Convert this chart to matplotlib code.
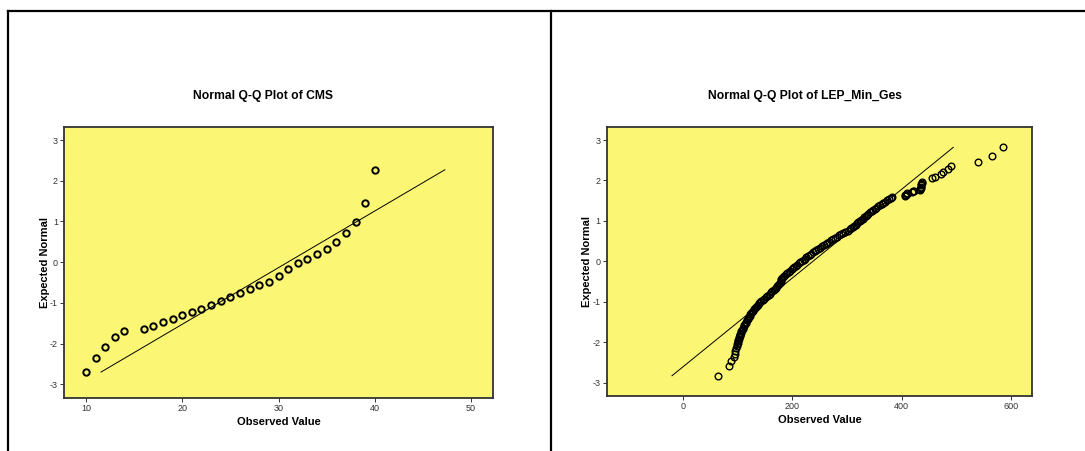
import matplotlib
matplotlib.use("Agg")
import matplotlib.pyplot as plt
from matplotlib.lines import Line2D

plt.rcParams['font.family'] = ['Liberation Sans', 'DejaVu Sans']
plt.rcParams['axes.unicode_minus'] = False

# Normal Q-Q plot of CMS (observed value, expected normal)
cms_x = [10, 11, 12, 13, 14, 16, 17, 18, 19, 20, 21, 22, 23, 24, 25,
         26, 27, 28, 29, 30, 31, 32, 33, 34, 35, 36, 37, 38, 39, 40]
cms_y = [-2.70, -2.35, -2.09, -1.84, -1.70, -1.64, -1.57, -1.46, -1.39, -1.30,
         -1.22, -1.15, -1.06, -0.96, -0.85, -0.75, -0.65, -0.57, -0.48, -0.33,
         -0.16, -0.02, 0.09, 0.20, 0.32, 0.49, 0.72, 0.98, 1.45, 2.27]
cms_line_x = [11.57, 47.27]
cms_line_y = [-2.70, 2.27]

# Normal Q-Q plot of LEP_Min_Ges
lep_x = [65, 85, 87.5, 94, 95.5, 96.5, 97.5, 99, 100, 100.5, 101.5, 102, 102.5, 103, 104,
         104.5, 105, 106, 107, 108, 109.5, 110.5, 111.5, 113, 114, 115, 116.5, 117.5, 119,
         120, 121, 122.5, 124, 125, 127, 129, 130.5, 132, 134, 136, 138, 140, 142, 144,
         146.5, 149, 152, 154.5, 157, 159.5, 162, 164, 166.5, 169, 171, 173, 175, 177,
         178.5, 179.5, 180, 180.5, 181, 183, 186, 189, 191.5, 194, 196.5, 199, 201.5, 204,
         206.5, 209, 212, 215, 218, 221, 223.5, 226, 229, 232, 235, 238, 241, 244.5, 248,
         251, 254.5, 258, 261.5, 264.5, 268, 271, 274.5, 278, 281.5, 285, 289, 293.5,
         297.5, 301.5, 305, 308, 311, 313.5, 316, 318.5, 321, 323.5, 326.5, 329.5, 332,
         334.5, 337, 339.5, 342.5, 345.5, 348.5, 351, 354, 357, 360, 363.5, 367, 370.5,
         373.5, 376.5, 380, 383,
         406, 407, 408, 409.5, 410, 420, 421.5, 422.5,
         434, 434.5, 435, 435.5, 436, 436, 436.5, 437,
         456, 461, 472, 476.5, 485.5, 490, 540, 565, 585]
lep_y = [-2.83, -2.60, -2.46, -2.36, -2.28, -2.21, -2.15, -2.10, -2.05, -2.01, -1.97, -1.94,
         -1.91, -1.88, -1.85, -1.82, -1.79, -1.76, -1.73, -1.70, -1.67, -1.64, -1.61, -1.58,
         -1.55, -1.52, -1.49, -1.46, -1.43, -1.40, -1.37, -1.34, -1.31, -1.28, -1.25, -1.22,
         -1.19, -1.16, -1.13, -1.10, -1.07, -1.04, -1.01, -0.98, -0.95, -0.92, -0.89, -0.86,
         -0.83, -0.80, -0.77, -0.74, -0.71, -0.68, -0.65, -0.62, -0.59, -0.56, -0.53, -0.50,
         -0.47, -0.44, -0.41, -0.38, -0.35, -0.32, -0.29, -0.26, -0.23, -0.20, -0.17, -0.14,
         -0.11, -0.08, -0.05, -0.02, 0.01, 0.04, 0.07, 0.10, 0.13, 0.16, 0.19, 0.22, 0.25,
         0.28, 0.31, 0.34, 0.37, 0.40, 0.43, 0.46, 0.49, 0.52, 0.55, 0.58, 0.61, 0.64, 0.67,
         0.70, 0.73, 0.76, 0.79, 0.82, 0.85, 0.88, 0.91, 0.94, 0.97, 1.00, 1.03, 1.06, 1.09,
         1.12, 1.15, 1.18, 1.21, 1.24, 1.27, 1.30, 1.33, 1.36, 1.39, 1.42, 1.45, 1.48, 1.51,
         1.54, 1.57, 1.60,
         1.61, 1.63, 1.65, 1.67, 1.69, 1.71, 1.73, 1.75,
         1.77, 1.80, 1.82, 1.85, 1.88, 1.91, 1.94, 1.97,
         2.05, 2.09, 2.16, 2.20, 2.28, 2.36, 2.46, 2.60, 2.83]
lep_line_x = [-19.5, 494.6]
lep_line_y = [-2.83, 2.82]

bg = '#fbf674'

fig = plt.figure(figsize=(10.85, 4.51), dpi=100)

def style_axes(ax):
    ax.set_facecolor(bg)
    for s in ax.spines.values():
        s.set_color('#333333')
        s.set_linewidth(1.3)
    ax.tick_params(labelsize=6.5, length=3, width=0.7, colors='#333333', pad=1.5)
    ax.set_yticks([-3, -2, -1, 0, 1, 2, 3])
    ax.set_xlabel("Observed Value", fontsize=8, fontweight='bold', labelpad=3)
    ax.set_ylabel("Expected Normal", fontsize=8, fontweight='bold', labelpad=0)

ax1 = fig.add_axes([0.0592, 0.1182, 0.395, 0.601])
style_axes(ax1)
ax1.plot(cms_line_x, cms_line_y, color='black', lw=0.7)
ax1.plot(cms_x, cms_y, 'o', ms=4.6, mfc='none', mec='black', mew=1.4)
ax1.set_xlim(7.75, 52.25)
ax1.set_ylim(-3.33, 3.33)
ax1.set_xticks([10, 20, 30, 40, 50])

ax2 = fig.add_axes([0.5592, 0.122, 0.3924, 0.597])
style_axes(ax2)
ax2.plot(lep_line_x, lep_line_y, color='black', lw=0.7)
ax2.plot(lep_x, lep_y, 'o', ms=4.8, mfc='none', mec='black', mew=1.0)
ax2.set_xlim(-138.7, 639.3)
ax2.set_ylim(-3.33, 3.33)
ax2.set_xticks([0, 200, 400, 600])

fig.text(263 / 1085, 1 - 96 / 451, "Normal Q-Q Plot of CMS", ha='center', va='center',
         fontsize=8.7, fontweight='bold')
fig.text(804.7 / 1085, 1 - 96 / 451, "Normal Q-Q Plot of LEP_Min_Ges", ha='center', va='center',
         fontsize=8.7, fontweight='bold')

# frame lines of the output window
for xs, ys in [([8 / 1085, 1], [1 - 11 / 451, 1 - 11 / 451]),
               ([8 / 1085, 8 / 1085], [0, 1 - 11 / 451]),
               ([551 / 1085, 551 / 1085], [0, 1 - 11 / 451])]:
    fig.add_artist(Line2D(xs, ys, transform=fig.transFigure, color='black', lw=1.6))

fig.savefig("out.png", dpi=100)
